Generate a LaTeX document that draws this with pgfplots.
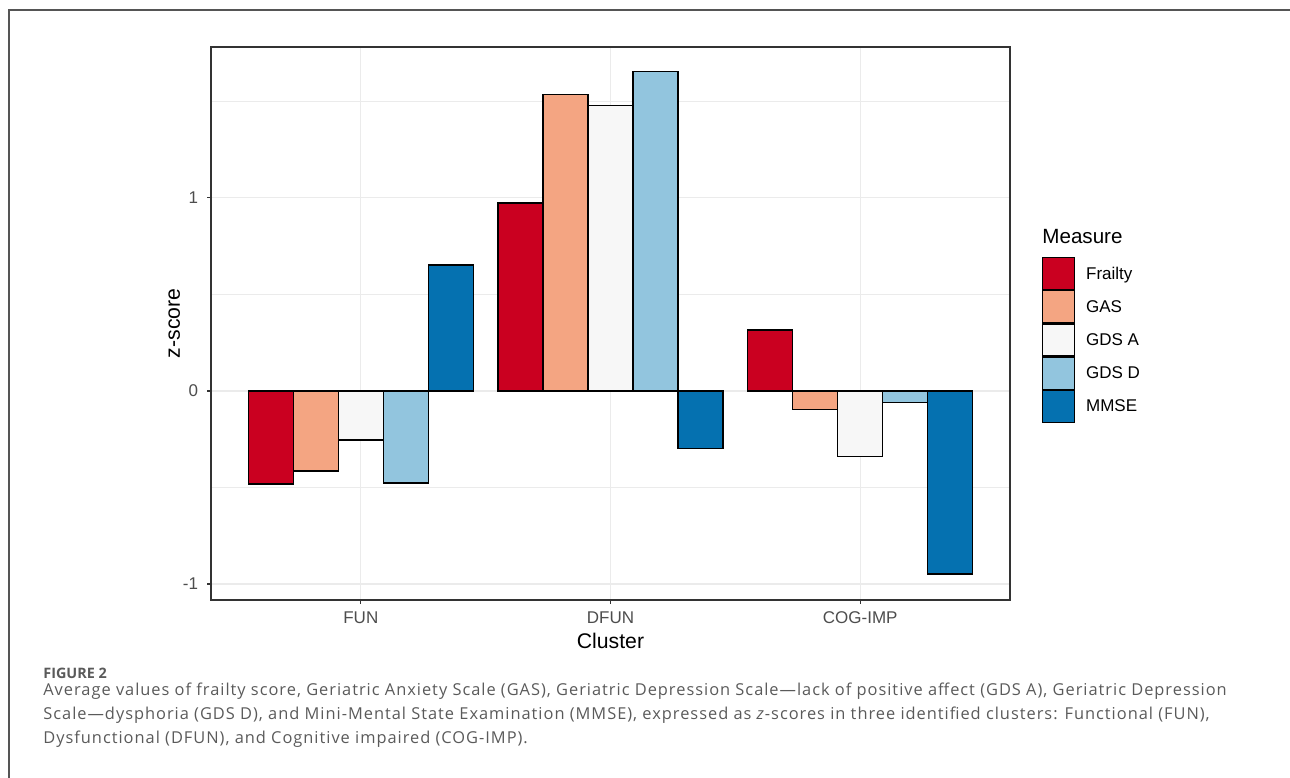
\documentclass[border=0pt]{standalone}
\usepackage{fontspec}
\setmainfont{Liberation Sans}
\newfontfamily\capfont[LetterSpace=6]{Open Sans}
\newfontfamily\figfont{Open Sans}
\usepackage{pgfplots}
\pgfplotsset{compat=1.18}
\definecolor{cFr}{HTML}{CA0020}
\definecolor{cGAS}{HTML}{F4A582}
\definecolor{cGA}{HTML}{F7F7F7}
\definecolor{cGD}{HTML}{92C5DE}
\definecolor{cMM}{HTML}{0571B0}
\definecolor{gray20}{HTML}{333333}
\definecolor{gray30}{HTML}{4D4D4D}
\definecolor{gridc}{HTML}{EBEBEB}
\definecolor{framec}{HTML}{555555}
\definecolor{capc}{HTML}{5A5A5A}
\pgfplotsset{
  mybar/.style={draw=black, line width=0.6bp, fill=#1,
    legend image code/.code={\draw[##1, line width=0.6bp] (0bp,-7.5bp) rectangle (16bp,8.5bp);}},
}
\begin{document}
\begin{tikzpicture}
\path[use as bounding box] (0,0) rectangle (645bp,389bp);
\draw[color=framec, line width=1bp] (4.5bp,0) -- (4.5bp,384bp) -- (645bp,384bp);
\begin{axis}[
  at={(105.5bp,89bp)}, anchor=south west,
  scale only axis, width=399.5bp, height=276.5bp,
  xmin=0.4, xmax=3.6, ymin=-1.083, ymax=1.782,
  xtick={1,2,3}, xticklabels={FUN,DFUN,COG-IMP},
  ytick={-1,0,1}, yticklabels={-1,0,1},
  minor ytick={-0.5,0.5,1.5},
  xmajorgrids, ymajorgrids, yminorgrids,
  major grid style={draw=gridc, line width=0.55bp},
  minor grid style={draw=gridc, line width=0.35bp},
  minor tick length=0pt,
  tick align=outside, major tick length=2bp,
  xtick pos=bottom, ytick pos=left,
  tick style={draw=gray20, line width=0.55bp},
  axis line style={draw=gray20, line width=0.6bp},
  tick label style={font=\fontsize{8.5bp}{10bp}\selectfont, text=gray30, inner sep=0pt, outer sep=0pt},
  yticklabel style={xshift=-4.5bp},
  xticklabel style={yshift=-4bp},
  xlabel={Cluster}, ylabel={z-score},
  label style={font=\fontsize{10.6bp}{12bp}\selectfont, text=black, inner sep=0pt, outer sep=0pt},
  xlabel style={at={(axis description cs:0.5,-0.0886)}, anchor=base},
  ylabel style={at={(axis description cs:-0.046,0.5)}, anchor=center},
  ybar=0pt, bar width=22.5bp,
  legend style={at={(axis description cs:1.0400,0.6203)}, anchor=north west,
    draw=none, fill=none, inner sep=0pt, outer sep=0pt, row sep=0pt,
    nodes={inner sep=0pt, outer sep=0pt},
    font=\fontsize{8.5bp}{10bp}\selectfont,
    /tikz/every odd column/.append style={column sep=5.5bp}},
  legend cell align=left,
  clip=false,
]
\addplot[mybar=cFr] coordinates {(1,-0.482) (2,0.974) (3,0.316)};
\addplot[mybar=cGAS] coordinates {(1,-0.415) (2,1.534) (3,-0.098)};
\addplot[mybar=cGA] coordinates {(1,-0.254) (2,1.478) (3,-0.340)};
\addplot[mybar=cGD] coordinates {(1,-0.477) (2,1.653) (3,-0.061)};
\addplot[mybar=cMM] coordinates {(1,0.653) (2,-0.300) (3,-0.948)};
\legend{Frailty,GAS,GDS A,GDS D,MMSE}
\end{axis}
\node[anchor=base west, inner sep=0pt, font=\fontsize{10.3bp}{12bp}\selectfont] at (521bp,267bp) {Measure};
\node[anchor=base west, inner sep=0pt, text=capc, font=\figfont\fontsize{7.2bp}{9bp}\selectfont] at (21.5bp,49.5bp) {\bfseries FIGURE 2};
\begin{scope}[every node/.style={anchor=base west, inner sep=0pt, text=capc, font=\capfont\fontsize{8.2bp}{9bp}\selectfont}]
\node at (21.5bp,41bp) {Average values of frailty score, Geriatric Anxiety Scale (GAS), Geriatric Depression Scale—lack of positive affect (GDS A), Geriatric Depression};
\node at (21.5bp,29.5bp) {Scale—dysphoria (GDS D), and Mini-Mental State Examination (MMSE), expressed as \textit{z}-scores in three identified clusters: Functional (FUN),};
\node at (21.5bp,17.5bp) {Dysfunctional (DFUN), and Cognitive impaired (COG-IMP).};
\end{scope}
\end{tikzpicture}
\end{document}
